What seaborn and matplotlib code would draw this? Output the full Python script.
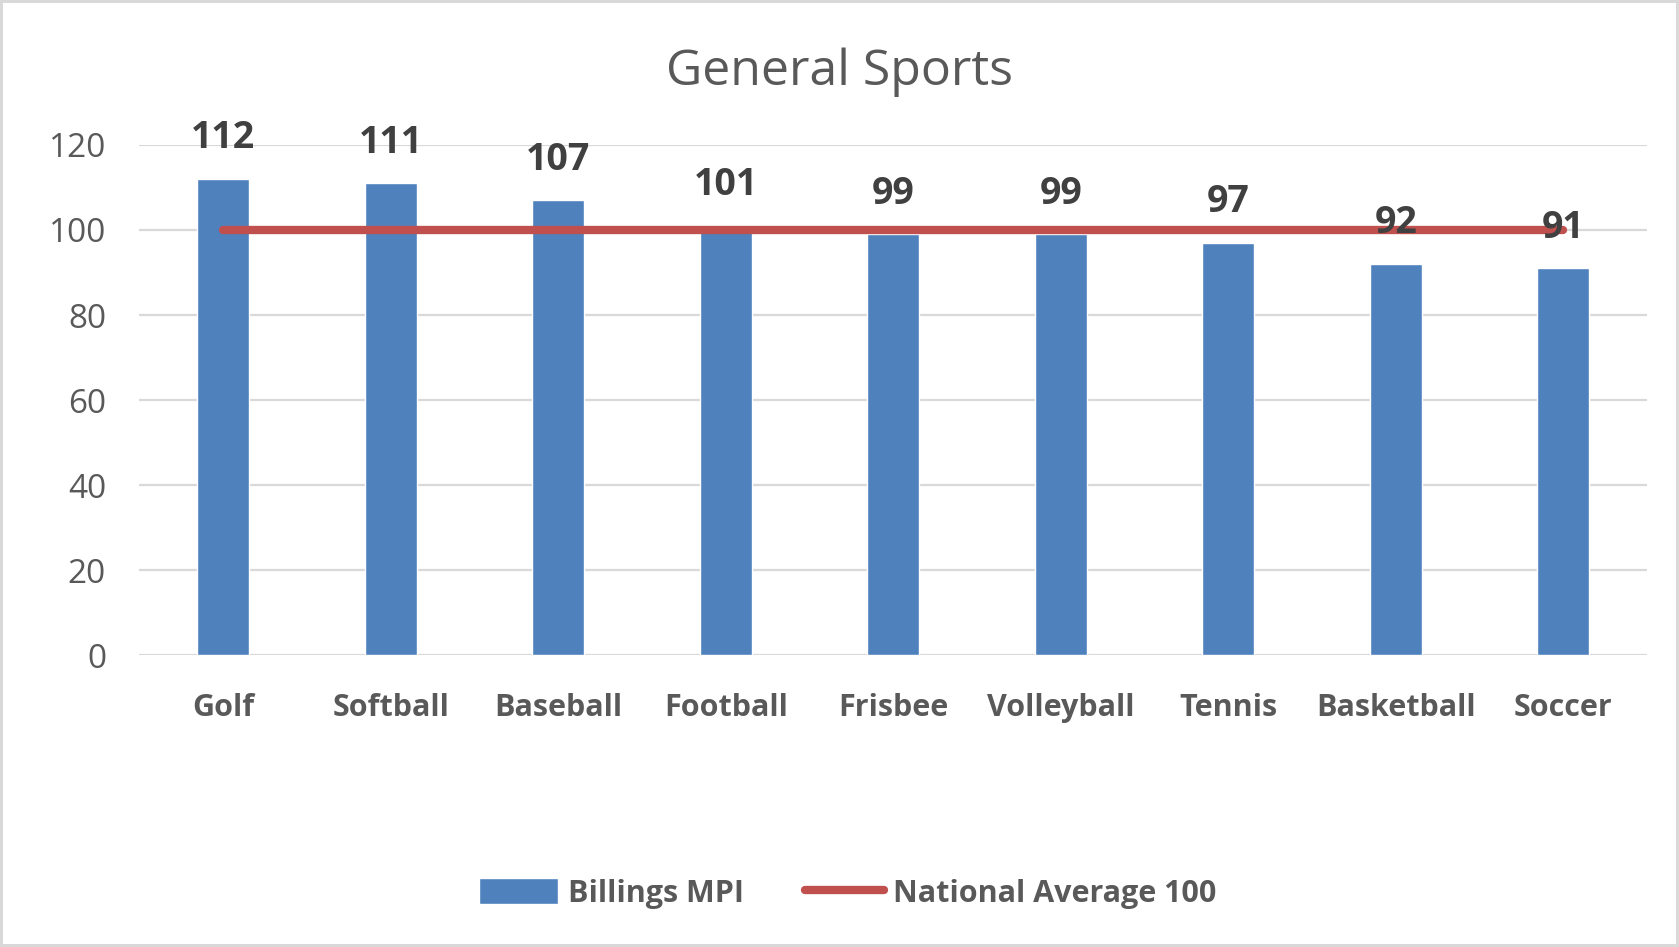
import numpy as np
import matplotlib
matplotlib.use("Agg")
import matplotlib.pyplot as plt
import seaborn as sns
from matplotlib.patches import Patch
from matplotlib.lines import Line2D

sports = ["Golf", "Softball", "Baseball", "Football", "Frisbee",
          "Volleyball", "Tennis", "Basketball", "Soccer"]
billings_mpi = [112, 111, 107, 101, 99, 99, 97, 92, 91]
national_avg = [100, 100, 100, 100, 100, 100, 100, 100, 100]
y_ticks = [0, 20, 40, 60, 80, 100, 120]

bar_color = "#4F81BD"
line_color = "#C0504D"
grey_text = "#595959"

sns.set_theme(style="white")
plt.rcParams["font.family"] = ["Open Sans", "DejaVu Sans"]

fig = plt.figure(figsize=(16.79, 9.47), dpi=100)
fig.patch.set_edgecolor("#D9D9D9")
fig.patch.set_linewidth(3)
ax = fig.add_axes([0.083, 0.308, 0.898, 0.539])

sns.barplot(x=sports, y=billings_mpi, color=bar_color, width=0.31,
            saturation=1, ax=ax, zorder=2)
ax.plot(np.arange(len(sports)), national_avg, color=line_color, lw=6,
        solid_capstyle="round", zorder=3)

# value labels above each bar
for i, v in enumerate(billings_mpi):
    ax.annotate(str(v), (i, v), xytext=(0, 15.5), textcoords="offset points",
                ha="center", va="bottom", fontsize=27, fontweight="bold",
                color="#404040", zorder=4)

ax.set_ylim(0, 120)
ax.set_xlim(-0.5, len(sports) - 0.5)
ax.set_yticks(y_ticks)
ax.yaxis.grid(True, color="#D9D9D9", lw=1.6, zorder=0)
ax.set_axisbelow(True)
for s in ax.spines.values():
    s.set_visible(False)
ax.tick_params(axis="y", length=0, pad=24, labelsize=24, labelcolor=grey_text)
ax.tick_params(axis="x", length=0, pad=27, labelsize=22, labelcolor=grey_text)
for lbl in ax.get_xticklabels():
    lbl.set_fontweight("bold")

fig.text(0.5, 1 - 72 / 947, "General Sports", ha="center", va="center",
         fontsize=36, color=grey_text)

handles = [Patch(facecolor=bar_color, label="Billings MPI"),
           Line2D([0], [0], color=line_color, lw=6, solid_capstyle="round",
                  label="National Average 100")]
fig.legend(handles=handles, loc="center", bbox_to_anchor=(0.505, 0.0565),
           ncol=2, frameon=False, handlelength=2.6,
           handleheight=0.9, columnspacing=2.0, handletextpad=0.3,
           prop={"weight": "bold", "size": 22})
for t in fig.legends[0].get_texts():
    t.set_color(grey_text)

fig.savefig("out.png", dpi=100)
